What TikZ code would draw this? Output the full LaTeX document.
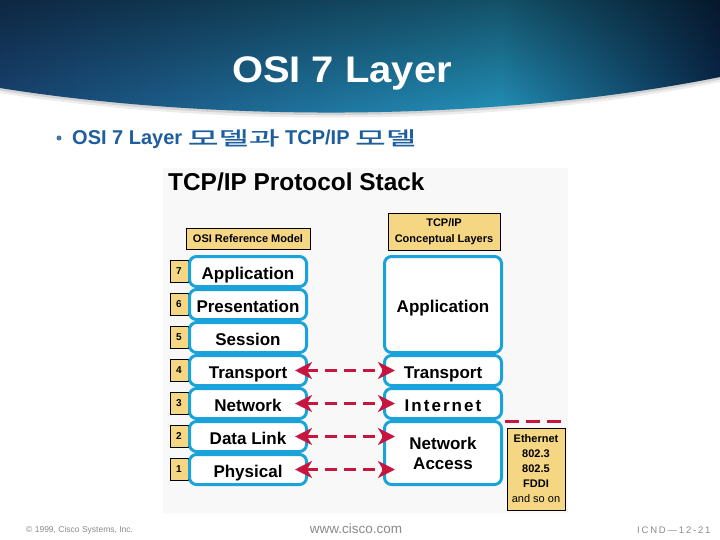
\documentclass[tikz,border=0pt]{standalone}
\usepackage{fontspec}
\setmainfont{Liberation Sans}
\newfontfamily\krfont{Noto Sans CJK KR}[FakeStretch=1.75,FakeBold=1.2]
\usetikzlibrary{arrows.meta,fadings}
\definecolor{cyanb}{HTML}{1AA2DA}
\definecolor{ylw}{HTML}{F5D783}
\definecolor{redd}{HTML}{C6153F}
\definecolor{bulblue}{HTML}{1E5E9E}
\definecolor{bnA}{HTML}{1A4778}
\definecolor{bnB}{HTML}{2494BD}
\definecolor{bnC}{HTML}{0B2B50}
\definecolor{ftgray}{HTML}{8A8A8A}
\definecolor{bgpanel}{HTML}{F8F8F8}
\newcommand\myfs[1]{\fontsize{#1}{#1}\selectfont}
\tikzset{
 osi/.style={draw=cyanb, line width=3pt, rounded corners=7pt, fill=white, minimum width=117pt, minimum height=30pt, inner sep=0pt, text height=15.6pt, text depth=0pt, font=\bfseries\myfs{17}},
 tcp/.style={osi},
 numbox/.style={draw=black, line width=0.7pt, fill=ylw, minimum width=18pt, minimum height=22pt, inner sep=0pt, font=\bfseries\myfs{10}},
 hdrbox/.style={draw=black, line width=0.7pt, fill=ylw, inner sep=0pt, font=\bfseries\myfs{11}, align=center},
 rarrow/.style={draw=redd, line width=3.5pt, dash pattern=on 12pt off 7pt, {Stealth[length=17pt,width=17pt,inset=5pt]}-{Stealth[length=17pt,width=17pt,inset=5pt]}},
 rdash/.style={draw=redd, line width=3.5pt, dash pattern=on 14pt off 7pt},
 foot/.style={text=ftgray, inner sep=0pt}
}
\begin{document}
\begin{tikzpicture}[x=1pt,y=-1pt]
\useasboundingbox (0,0) rectangle (720,540);
\fill[white] (0,0) rectangle (720,540);
% banner shadow
\begin{scope}[yshift=-5pt]
\fill[gray!15] (0,0) -- (720,0) -- (720,77) .. controls (480,125) and (200,120) .. (0,88) -- cycle;
\end{scope}
\begin{scope}[yshift=-2.5pt]
\fill[gray!35] (0,0) -- (720,0) -- (720,77) .. controls (480,125) and (200,120) .. (0,88) -- cycle;
\end{scope}
% banner
\begin{scope}
\clip (0,0) -- (720,0) -- (720,77) .. controls (480,125) and (200,120) .. (0,88) -- cycle;
\shade[left color=bnA, right color=bnB] (0,0) rectangle (500,130);
\shade[left color=bnB, right color=bnC] (500,0) rectangle (720,130);
\fill[black, path fading=south, fill opacity=0.45] (0,0) rectangle (720,120);
\end{scope}
\node[anchor=base, inner sep=0pt, text=white, font=\bfseries\myfs{37}, xscale=1.08] (title) at (342,83) {OSI 7 Layer};
% bullet
\node[circle, fill=bulblue!85, inner sep=0pt, minimum size=5pt] (dot) at (59,138) {};
\node[anchor=base west, inner sep=0pt, text=bulblue, font=\bfseries\myfs{20}] (bul) at (72,145) {OSI 7 Layer {\krfont\mdseries\myfs{19}모델과} TCP/IP {\krfont\mdseries\myfs{19}모델}};
% panel
\fill[bgpanel] (163,168) rectangle (568,513);
\node[anchor=base west, inner sep=0pt, font=\bfseries\myfs{24.4}] (stack) at (168,190.5) {TCP/IP Protocol Stack};
% header boxes
\node[hdrbox, minimum width=124pt, minimum height=21pt] (hosi) at (248,238.5) {OSI Reference Model};
\node[hdrbox, minimum width=112pt, minimum height=37pt] (htcp) at (444,231.5) {TCP/IP\\[5pt]Conceptual Layers};
% number boxes
\node[numbox] (n7) at (179,271.5) {7};
\node[numbox] (n6) at (179,304.5) {6};
\node[numbox] (n5) at (179,337.5) {5};
\node[numbox] (n4) at (179,370.5) {4};
\node[numbox] (n3) at (179,403.5) {3};
\node[numbox] (n2) at (179,436.5) {2};
\node[numbox] (n1) at (179,469.5) {1};
% OSI layers
\node[osi] (o7) at (248,271.5) {Application};
\node[osi] (o6) at (248,304.5) {Presentation};
\node[osi] (o5) at (248,337.5) {Session};
\node[osi] (o4) at (248,370.5) {Transport};
\node[osi] (o3) at (248,403.5) {Network};
\node[osi] (o2) at (248,436.5) {Data Link};
\node[osi] (o1) at (248,469.5) {Physical};
% TCP/IP layers
\node[tcp, minimum height=96pt] (ta) at (443,304.5) {Application};
\node[tcp] (tt) at (443,370.5) {Transport};
\node[tcp] (ti) at (443,403.5) {\addfontfeature{LetterSpace=12}Internet};
\node[tcp, minimum height=63pt, align=center, text height=33pt, text depth=0pt] (tna) at (443,453) {Network\\[3pt]Access};
% ethernet
\node[hdrbox, minimum width=58pt, minimum height=82pt] (eth) at (536,469) {Ethernet\\[4pt]802.3\\[4pt]802.5\\[4pt]FDDI\\[4pt]{\mdseries and so on}};
% arrows
\coordinate (e2) at (o2.east -| tna.west);
\coordinate (e1) at (o1.east -| tna.west);
\draw[rarrow] ([xshift=-13pt]o4.east) -- ([xshift=12pt]tt.west);
\draw[rarrow] ([xshift=-13pt]o3.east) -- ([xshift=12pt]ti.west);
\draw[rarrow] ([xshift=-13pt]o2.east) -- ([xshift=12pt]e2);
\draw[rarrow] ([xshift=-13pt]o1.east) -- ([xshift=12pt]e1);
\coordinate (dashend) at (562,421.5);
\draw[rdash] ([xshift=2pt,yshift=-1.5pt]tna.north east) -- (dashend);
% footer
\node[foot, font=\myfs{8.5}, anchor=west] (copy) at (26,530) {\textcopyright\ 1999, Cisco Systems, Inc.};
\node[foot, font=\myfs{13.5}] (www) at (356,529) {www.cisco.com};
\node[foot, font=\myfs{9.5}, anchor=west] (icnd) at (637,530) {\addfontfeature{LetterSpace=19}ICND---12-21};
\end{tikzpicture}
\end{document}
